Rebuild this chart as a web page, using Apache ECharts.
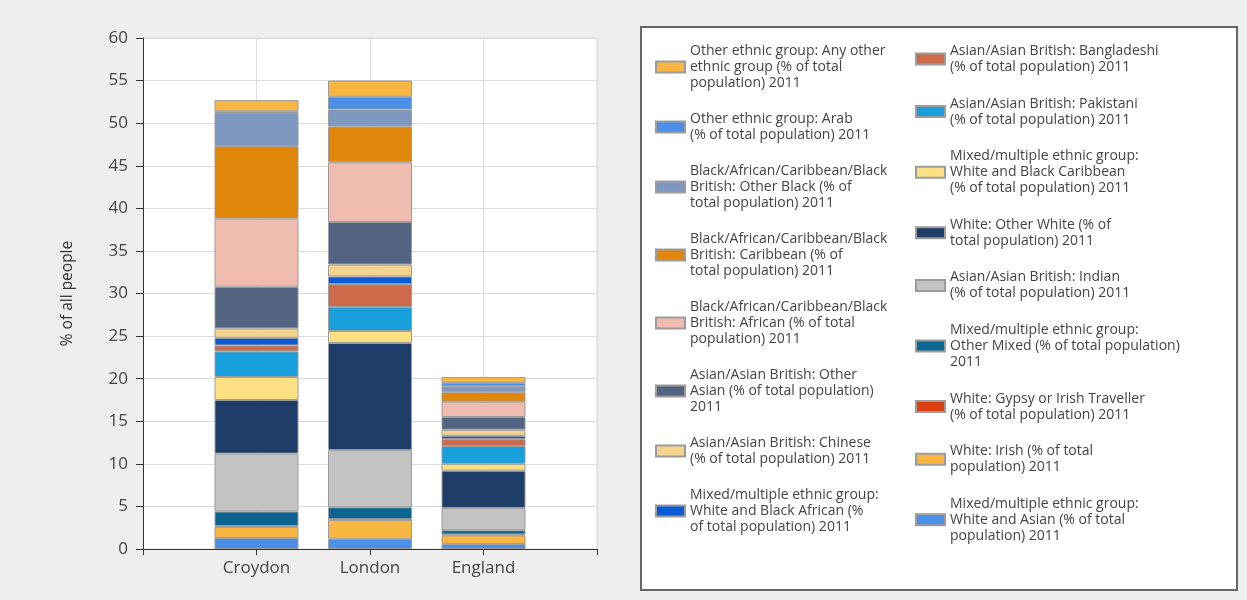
<!DOCTYPE html>
<html>
<head>
<meta charset="utf-8">
<title>Ethnic groups 2011</title>
<script src="https://cdn.jsdelivr.net/npm/echarts@6/dist/echarts.min.js"></script>
<style>
  html, body { margin: 0; padding: 0; background: #eeeeee; }
  #chart { width: 1247px; height: 600px; }
</style>
</head>
<body>
<div id="chart"></div>
<script>
// places on the x axis (empty ends give the padding the original has)
const places = ["Croydon", "London", "England"];

// legend text, wrapped as in the original; stacking order bottom -> top
const seriesLabels = [
  "Mixed/multiple ethnic group:\nWhite and Asian (% of total\npopulation) 2011",
  "White: Irish (% of total\npopulation) 2011",
  "White: Gypsy or Irish Traveller\n(% of total population) 2011",
  "Mixed/multiple ethnic group:\nOther Mixed (% of total population)\n2011",
  "Asian/Asian British: Indian\n(% of total population) 2011",
  "White: Other White (% of\ntotal population) 2011",
  "Mixed/multiple ethnic group:\nWhite and Black Caribbean\n(% of total population) 2011",
  "Asian/Asian British: Pakistani\n(% of total population) 2011",
  "Asian/Asian British: Bangladeshi\n(% of total population) 2011",
  "Mixed/multiple ethnic group:\nWhite and Black African (%\nof total population) 2011",
  "Asian/Asian British: Chinese\n(% of total population) 2011",
  "Asian/Asian British: Other\nAsian (% of total population)\n2011",
  "Black/African/Caribbean/Black\nBritish: African (% of total\npopulation) 2011",
  "Black/African/Caribbean/Black\nBritish: Caribbean (% of\ntotal population) 2011",
  "Black/African/Caribbean/Black\nBritish: Other Black (% of\ntotal population) 2011",
  "Other ethnic group: Arab\n(% of total population) 2011",
  "Other ethnic group: Any other\nethnic group (% of total\npopulation) 2011"
];

// values per group: [Croydon, London, England]
const whiteAsian      = [1.3, 1.2, 0.6];
const irish           = [1.3, 2.2, 1.0];
const gypsy           = [0.1, 0.1, 0.1];
const otherMixed      = [1.7, 1.4, 0.5];
const indian          = [6.8, 6.7, 2.6];
const otherWhite      = [6.3, 12.6, 4.4];
const whiteBlackCarib = [2.7, 1.4, 0.8];
const pakistani       = [3.0, 2.8, 2.1];
const bangladeshi     = [0.7, 2.7, 0.8];
const whiteBlackAfr   = [0.9, 0.9, 0.4];
const chinese         = [1.1, 1.4, 0.7];
const otherAsian      = [4.9, 5.0, 1.5];
const african         = [8.0, 7.0, 1.8];
const caribbean       = [8.5, 4.2, 1.1];
const otherBlack      = [3.9, 2.0, 0.7];
const arab            = [0.2, 1.5, 0.4];
const anyOther        = [1.3, 1.9, 0.7];

const seriesValues = [
  whiteAsian, irish, gypsy, otherMixed, indian, otherWhite, whiteBlackCarib,
  pakistani, bangladeshi, whiteBlackAfr, chinese, otherAsian, african,
  caribbean, otherBlack, arab, anyOther
];

const colors = [
  "#4a90e8", "#f9b642", "#dc4010", "#0b6590", "#c3c3c3", "#1e3d68", "#fde083",
  "#17a0dc", "#cd6a4c", "#0a5ad8", "#f3d38e", "#536382", "#f0bcaf",
  "#e0860a", "#7f98c0", "#4a90e8", "#f9b642"
];

const names = seriesLabels.map(s => s.replace(/\n/g, " "));
const labelOf = {};
names.forEach((n, i) => { labelOf[n] = seriesLabels[i]; });

// legend columns list the stack top first
const colOne = [16, 15, 14, 13, 12, 11, 10, 9].map(i => names[i]);
const colTwo = [8, 7, 6, 5, 4, 3, 2, 1, 0].map(i => names[i]);

const font = "'Open Sans', 'DejaVu Sans', sans-serif";

const legendBase = {
  orient: "vertical",
  top: 42,
  padding: 0,
  itemWidth: 29,
  itemHeight: 11,
  itemGap: 20,
  selectedMode: false,
  icon: "rect",
  formatter: name => labelOf[name],
  textStyle: { fontFamily: font, fontSize: 14, lineHeight: 16, color: "#444" }
};

const chart = echarts.init(document.getElementById("chart"));
chart.setOption({
  backgroundColor: "#eeeeee",
  animation: false,
  color: colors,
  graphic: [
    {
      type: "rect",
      shape: { x: 641, y: 27, width: 596, height: 563 },
      style: { fill: "#fff", stroke: "#666", lineWidth: 2 },
      z: -1
    }
  ],
  legend: [
    Object.assign({}, legendBase, { left: 655, top: 43, data: colOne }),
    Object.assign({}, legendBase, { left: 915, top: 43, itemGap: 20.6, data: colTwo })
  ],
  grid: {
    left: 143,
    right: 650,
    top: 38,
    bottom: 51,
    show: true,
    backgroundColor: "#fff",
    borderColor: "#dcdcdc",
    borderWidth: 1
  },
  xAxis: {
    type: "category",
    boundaryGap: false,
    data: [""].concat(places, [""]),
    axisLine: { lineStyle: { color: "#333", width: 1 } },
    axisTick: { show: true, interval: 0, length: 6, lineStyle: { color: "#333" } },
    axisLabel: { interval: 0, color: "#444", fontFamily: font, fontSize: 17, margin: 11 },
    splitLine: { show: true, interval: 0, lineStyle: { color: "#dcdcdc" } }
  },
  yAxis: {
    type: "value",
    min: 0,
    max: 60,
    interval: 5,
    name: "% of all people",
    nameLocation: "middle",
    nameGap: 67,
    nameTextStyle: { color: "#333", fontFamily: font, fontSize: 15.5 },
    axisLine: { show: true, lineStyle: { color: "#333" } },
    axisTick: { show: true, length: 7, lineStyle: { color: "#333" } },
    axisLabel: { color: "#444", fontFamily: font, fontSize: 17, margin: 15 },
    splitLine: { lineStyle: { color: "#dcdcdc" } }
  },
  series: names.map((n, i) => ({
    name: n,
    type: "bar",
    stack: "total",
    barWidth: 84,
    data: [null].concat(seriesValues[i], [null]),
    itemStyle: { color: colors[i], borderColor: "#9c9c9c", borderWidth: 1 }
  }))
});
</script>
</body>
</html>
